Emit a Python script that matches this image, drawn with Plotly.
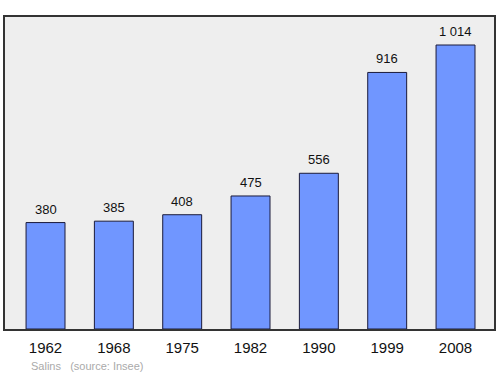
import plotly.graph_objects as go

years = ["1962", "1968", "1975", "1982", "1990", "1999", "2008"]
population = [380, 385, 408, 475, 556, 916, 1014]
labels = ["380", "385", "408", "475", "556", "916", "1 014"]

fig = go.Figure()
fig.add_trace(go.Bar(
    x=list(range(len(years))), y=population, width=0.57,
    marker=dict(color="#7096ff", line=dict(color="#1a1a3a", width=1)),
    hoverinfo="skip",
))
for i, (v, t) in enumerate(zip(population, labels)):
    fig.add_annotation(x=i, y=v, text=t, showarrow=False, yanchor="bottom", yshift=4,
                       font=dict(family="Liberation Sans, Arial", size=13, color="#111"))
fig.add_annotation(xref="paper", yref="paper", x=0.05, y=-0.093, xanchor="left", yanchor="top",
                   text="Salins &nbsp;&nbsp;(source: Insee)", showarrow=False,
                   font=dict(family="Liberation Sans, Arial", size=11, color="#aaaaaa"))

fig.update_layout(
    width=500, height=374, margin=dict(l=5, r=6, t=17, b=45),
    paper_bgcolor="white", plot_bgcolor="#eeeeee", showlegend=False,
    xaxis=dict(range=[-0.593, 6.563], tickvals=list(range(len(years))), ticktext=years,
               showgrid=False, zeroline=False, ticks="", showline=True, linecolor="#333", linewidth=1.5,
               mirror=True, ticklabelstandoff=4,
               tickfont=dict(family="Liberation Sans, Arial", size=15, color="#111")),
    yaxis=dict(range=[0, 1114], showticklabels=False, showgrid=False, zeroline=False, ticks="",
               showline=True, linecolor="#333", linewidth=1.5, mirror=True),
)
fig.write_html("out.html")
